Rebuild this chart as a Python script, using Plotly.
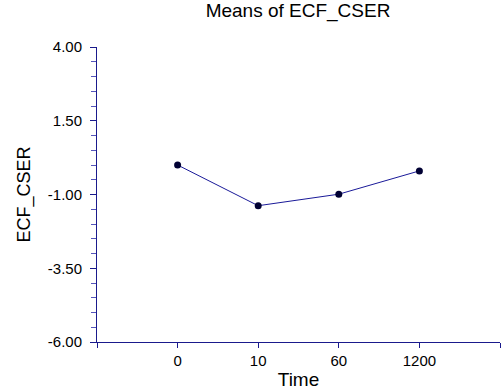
import plotly.graph_objects as go

categories = ["0", "10", "60", "1200"]
means = [0.0, -1.38, -0.99, -0.2]
y_ticks = [4.0, 1.5, -1.0, -3.5, -6.0]

xpos = list(range(1, len(categories) + 1))
axis_color = "#1a1a8c"

fig = go.Figure()
fig.add_trace(go.Scatter(
    x=xpos, y=means, mode="lines+markers",
    line=dict(color="#1a1a99", width=1),
    marker=dict(color="#000033", size=7),
    showlegend=False,
))

fig.update_layout(
    width=503, height=392,
    margin=dict(l=97, r=3, t=47, b=50, autoexpand=False),
    paper_bgcolor="white", plot_bgcolor="white",
    font=dict(family="Liberation Sans, Arial, sans-serif", color="black", size=15),
    title=dict(text="Means of ECF_CSER", x=0.5925, xanchor="center", y=0.99, yanchor="top",
               font=dict(size=19)),
)
fig.update_xaxes(
    range=[0, 5], tickvals=list(range(0, 6)),
    ticktext=[""] + categories + [""],
    showgrid=False, zeroline=False,
    showline=True, linecolor=axis_color, linewidth=1,
    ticks="outside", ticklen=5, tickcolor=axis_color,
    title=dict(text="Time", font=dict(size=19), standoff=4),
    tickfont=dict(size=15),
)
fig.update_yaxes(
    range=[-6, 4], tickvals=y_ticks,
    ticktext=[f"{v:.2f}" for v in y_ticks],
    showgrid=False, zeroline=False,
    showline=True, linecolor=axis_color, linewidth=1,
    ticks="outside", ticklen=6, tickcolor=axis_color,
    ticklabelstandoff=5,
    minor=dict(dtick=0.5, ticks="outside", ticklen=5, tickcolor="#5555bb", showgrid=False),
    title=dict(text="ECF_CSER", font=dict(size=18), standoff=12),
    tickfont=dict(size=15),
)

fig.write_html("out.html", config={"displayModeBar": False},
               post_script="document.body.style.margin='0';document.body.style.overflow='hidden';")
